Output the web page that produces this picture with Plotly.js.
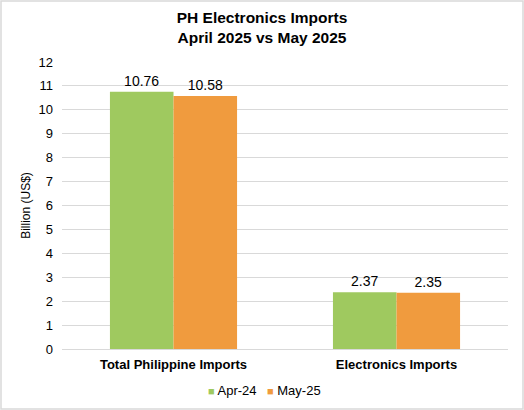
<!DOCTYPE html>
<html>
<head>
<meta charset="utf-8">
<script src="https://cdn.plot.ly/plotly-3.0.1.min.js"></script>
<style>
  html, body { margin: 0; padding: 0; background: #fff; }
  #plot { width: 524px; height: 410px; }
</style>
</head>
<body>
<div id="plot"></div>
<script>
// chart values
const categories = ["Total Philippine Imports", "Electronics Imports"]
const seriesNames = ["Apr-24", "May-25"]
const apr24 = [10.76, 2.37]
const may25 = [10.58, 2.35]
const yTicks = [0, 1, 2, 3, 4, 5, 6, 7, 8, 9, 10, 11, 12]

const colors = ["#9FC95F", "#F09B3E"]

const bars = [apr24, may25].map((vals, i) => ({
  type: "bar",
  name: seriesNames[i],
  x: categories,
  y: vals,
  text: vals.map(v => v.toFixed(2)),
  textposition: "outside",
  cliponaxis: false,
  textfont: { family: "Liberation Sans, Arial", size: 14, color: "#000" },
  marker: { color: colors[i], line: { width: 0 } },
  showlegend: false,
  hoverinfo: "none"
}))

const W = 524, H = 410
const M = { l: 62, r: 16, t: 62, b: 61 }
const pw = W - M.l - M.r, ph = H - M.t - M.b

// excel-style legend: small square right next to the name (pixel centres -> paper)
const legendPx = [232, 294]
const legendNotes = seriesNames.map((name, i) => ({
  xref: "paper", yref: "paper",
  x: (legendPx[i] - M.l) / pw, y: -(390 - (H - M.b)) / ph,
  xanchor: "center", yanchor: "middle",
  showarrow: false,
  text: `<span style="color:${colors[i]};font-size:11px">■</span> ${name}`,
  font: { size: 13, color: "#000" }
}))

const layout = {
  width: W,
  height: H,
  paper_bgcolor: "#fff",
  plot_bgcolor: "#fff",
  font: { family: "Liberation Sans, Arial", color: "#000" },
  margin: { l: M.l, r: M.r, t: M.t, b: M.b, pad: 0, autoexpand: false },
  showlegend: false,
  title: {
    text: "<b>PH Electronics Imports<br>April 2025 vs May 2025</b>",
    font: { size: 15.5, color: "#000" },
    x: 0.5,
    xanchor: "center",
    yref: "container",
    y: 1 - 23 / H,
    yanchor: "top"
  },
  barmode: "group",
  bargap: 0.43,
  bargroupgap: 0,
  xaxis: {
    tickfont: { size: 13, color: "#000" },
    tickprefix: "<b>",
    ticksuffix: "</b>",
    showline: false,
    ticks: "",
    ticklabelstandoff: 6,
    fixedrange: true
  },
  yaxis: {
    range: [0, 12],
    tickvals: yTicks,
    tickfont: { size: 13, color: "#000" },
    showgrid: true,
    gridcolor: "#d9d9d9",
    gridwidth: 1,
    zeroline: true,
    zerolinecolor: "#d9d9d9",
    ticks: "",
    ticklabelstandoff: 8,
    title: { text: "Billion (US$)", font: { size: 12, color: "#000" }, standoff: 5 },
    fixedrange: true
  },
  annotations: legendNotes,
  shapes: [{
    type: "rect",
    xref: "paper", yref: "paper",
    x0: -(M.l - 1) / pw, x1: 1 + (M.r - 1) / pw,
    y0: -(M.b - 1) / ph, y1: 1 + (M.t - 1) / ph,
    line: { color: "#d9d9d9", width: 1.5 },
    fillcolor: "rgba(0,0,0,0)",
    layer: "below"
  }]
}

Plotly.newPlot("plot", bars, layout, { displayModeBar: false, staticPlot: true })
</script>
</body>
</html>
